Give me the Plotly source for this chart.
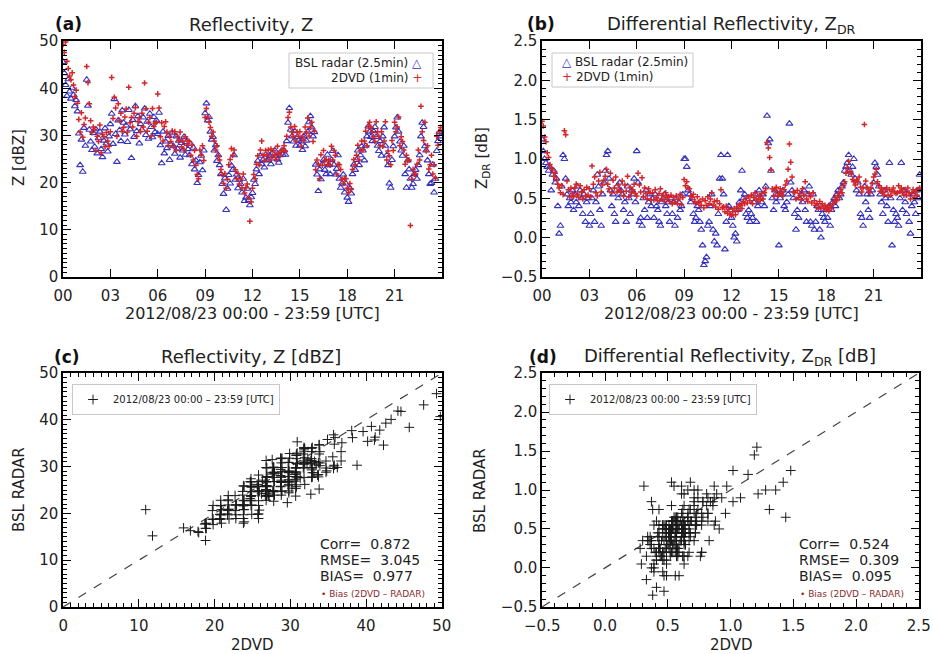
import plotly.graph_objects as go

W, H = 933, 654
def px(x):
    return x / W
def py(y):
    return 1 - y / H

# ---------------- data ----------------
minutes = list(range(0, 1440, 5))          # 5-min sample times
hours = [m / 60 for m in minutes]
hour_ticks = [0, 3, 6, 9, 12, 15, 18, 21]
hour_labels = ["00", "03", "06", "09", "12", "15", "18", "21"]

# Reflectivity Z [dBZ], BSL radar
z_radar = [
    45.6, 43.2, 40.7, 38.4, 41.9, 39.3, 37.8, 40.1, 38.6, 36.2, 37.5, 35.1,
    30.4, 23.7, 29.1, 22.3, 31.6, 27.8, 41.8, 36.3, 31.2, 28.7, 26.9, 30.5,
    27.6, 31.3, 26.2, 29.4, 30.8, 27.1, 25.4, 28.9, 31.5, 28.3, 26.6, 29.8,
    32.4, 34.6, 28.2, 37.7, 30.3, 24.4, 33.2, 31.1, 28.8, 35.3, 32.7, 30.2,
    32.1, 28.6, 35.4, 31.3, 25.2, 33.3, 29.7, 36.2, 30.9, 34.1, 28.3, 32.4,
    31.2, 33.8, 35.7, 30.1, 32.9, 29.3, 34.6, 31.8, 29.6, 33.9, 30.7, 33.2,
    30.3, 34.8, 27.9, 24.1, 30.8, 26.2, 28.7, 27.3, 29.9, 24.8, 28.1, 30.6,
    27.7, 26.1, 29.8, 27.2, 28.9, 25.3, 28.4, 26.8, 29.7, 25.9, 28.6, 27.1,
    25.8, 28.2, 23.9, 27.4, 22.8, 24.7, 19.9, 21.6, 24.3, 25.7, 22.6, 26.8,
    34.7, 36.8, 33.2, 33.9, 30.8, 29.1, 29.7, 26.8, 27.9, 24.6, 25.8, 23.7,
    21.8, 19.7, 17.6, 20.9, 14.2, 18.7, 21.6, 19.8, 23.6, 22.7, 25.8, 20.6,
    21.7, 18.8, 20.6, 19.7, 17.9, 20.8, 16.1, 16.8, 18.7, 16.3, 15.2, 16.9,
    17.8, 20.6, 19.7, 22.8, 24.6, 21.8, 25.7, 23.9, 24.8, 23.2, 25.9, 24.7,
    24.8, 25.7, 23.9, 26.2, 25.1, 26.8, 25.6, 24.9, 24.2, 25.8, 26.7, 25.9,
    26.8, 25.9, 28.8, 32.7, 35.8, 31.2, 29.8, 28.7, 30.9, 27.8, 29.7, 28.9,
    27.8, 28.7, 26.9, 29.8, 27.7, 28.9, 30.8, 32.8, 34.1, 31.7, 29.8, 30.7,
    23.8, 21.7, 18.2, 22.8, 20.7, 23.9, 24.8, 22.7, 21.8, 25.9, 23.7, 21.8,
    24.8, 26.7, 23.8, 21.7, 22.9, 25.8, 20.8, 18.9, 19.8, 21.7, 17.9, 19.8,
    16.8, 15.9, 18.8, 17.7, 21.8, 23.8, 22.7, 24.8, 26.8, 23.7, 25.8, 27.7,
    26.8, 24.7, 27.8, 29.8, 31.9, 30.8, 29.7, 28.8, 30.9, 31.8, 29.7, 27.8,
    26.7, 28.8, 25.7, 29.8, 31.7, 27.8, 25.8, 23.7, 19.8, 18.9, 24.8, 27.7,
    29.8, 31.7, 33.8, 30.8, 28.7, 26.8, 25.7, 27.8, 21.8, 18.9, 24.7, 22.8,
    20.8, 18.9, 19.7, 21.8, 22.7, 20.8, 23.7, 25.8, 29.8, 32.7, 31.8, 27.7,
    26.8, 24.7, 21.8, 19.7, 19.9, 23.8, 17.9, 20.8, 26.7, 28.8, 30.7, 29.8,
]

# Reflectivity Z [dBZ], 2DVD
z_2dvd = [
    49.3, 47.6, 49.8, 45.7, 44.2, 42.6, 41.8, 43.3, 40.7, 38.2, 39.6, 36.8,
    33.4, 30.7, 34.8, 29.6, 32.3, 33.7, 44.6, 41.2, 36.7, 33.1, 30.6, 31.8,
    31.3, 26.8, 29.8, 28.7, 32.2, 26.3, 30.2, 29.7, 27.6, 30.6, 28.8, 27.7,
    30.8, 42.3, 33.6, 38.1, 35.8, 29.8, 36.7, 33.2, 34.7, 30.9, 31.7, 33.9,
    35.6, 30.7, 40.2, 32.7, 33.8, 31.8, 34.7, 35.9, 29.8, 32.9, 33.7, 30.8,
    34.7, 31.8, 41.1, 35.7, 30.9, 32.8, 33.8, 29.9, 35.7, 31.9, 32.6, 32.8,
    38.8, 35.8, 29.7, 32.7, 28.8, 31.9, 32.9, 30.7, 27.8, 29.8, 28.7, 30.9,
    27.7, 30.8, 26.8, 29.8, 28.9, 30.7, 27.6, 28.8, 26.9, 29.7, 27.9, 28.8,
    28.7, 25.8, 27.9, 24.8, 26.8, 23.7, 21.7, 20.8, 26.9, 25.8, 27.8, 24.7,
    33.8, 35.7, 33.9, 32.8, 31.7, 29.8, 30.7, 28.8, 26.9, 27.8, 25.7, 24.8,
    22.8, 21.7, 19.8, 21.9, 18.8, 20.7, 23.8, 24.9, 27.2, 25.8, 26.9, 22.7,
    20.8, 21.9, 19.7, 20.8, 18.9, 21.8, 17.8, 18.9, 19.7, 16.8, 11.8, 15.9,
    18.8, 21.7, 20.8, 23.9, 25.7, 23.8, 26.9, 28.8, 25.8, 24.7, 26.8, 25.9,
    26.9, 24.8, 27.1, 25.6, 26.8, 25.8, 24.9, 27.7, 26.2, 25.7, 26.8, 26.9,
    27.8, 26.7, 29.8, 33.8, 34.9, 31.8, 30.7, 29.8, 31.9, 28.8, 30.7, 29.8,
    30.8, 27.7, 29.8, 28.9, 31.8, 30.7, 33.7, 29.9, 31.8, 32.8, 28.7, 30.9,
    22.7, 24.8, 23.9, 20.8, 25.9, 23.7, 26.8, 24.7, 24.9, 23.8, 24.8, 23.7,
    27.7, 24.8, 26.8, 25.8, 21.8, 23.9, 23.8, 22.8, 20.7, 19.8, 20.9, 20.8,
    18.8, 17.9, 19.8, 18.7, 22.8, 24.9, 23.8, 25.8, 27.9, 24.8, 26.8, 28.8,
    26.9, 28.8, 30.9, 27.8, 31.9, 32.8, 31.8, 30.8, 29.7, 28.7, 32.9, 30.8,
    29.8, 27.8, 30.8, 27.7, 28.8, 32.9, 24.8, 26.7, 25.7, 23.8, 28.9, 26.8,
    32.8, 30.8, 31.8, 33.9, 27.8, 29.7, 28.7, 26.9, 23.9, 25.8, 24.7, 24.8,
    10.9, 20.7, 22.8, 21.8, 21.8, 23.9, 26.9, 24.8, 36.2, 30.8, 28.9, 32.8,
    26.7, 27.8, 22.9, 23.8, 25.8, 21.8, 23.8, 20.9, 29.8, 27.9, 30.8, 31.7,
]

# Differential reflectivity ZDR [dB], BSL radar
zdr_radar = [
    1.25, 1.1, 1.0, 0.95, 0.9, 0.85, 0.9, 0.6, 0.8, 0.85, 0.7, 0.75,
    0.4, 0.05, 0.15, 0.65, 1.05, 1.0, 0.75, 0.55, 0.4, 0.5, 0.45, 0.6,
    0.35, 0.55, 0.45, 0.65, 0.4, 0.6, 0.5, 0.3, 0.55, 0.2, 0.45, 0.5,
    0.15, 0.3, 0.5, 0.6, 0.2, 0.45, 0.8, 0.65, 0.35, 0.15, 0.55, 0.7,
    0.85, 1.05, 1.1, 0.75, 0.6, 0.4, 0.55, 0.3, 0.2, 0.65, 0.5, 0.7,
    0.6, 0.55, 0.35, 0.45, 0.2, 0.65, 0.5, 0.3, 0.6, 0.55, 0.75, 0.45,
    1.1, 0.7, 0.2, 0.25, 0.15, 0.5, 0.35, 0.6, 0.25, 0.45, 0.55, 0.4,
    0.5, 0.25, 0.55, 0.4, 0.35, 0.2, 0.15, 0.45, 0.5, 0.55, 0.4, 0.3,
    0.45, 0.2, 0.5, 0.3, 0.45, 0.15, 0.5, 0.25, 0.45, 0.35, 0.4, 0.55,
    1.0, 1.0, 0.9, 0.6, 0.55, 0.45, 0.5, 0.3, 0.2, 0.25, 0.4, 0.35,
    0.2, 0.1, -0.1, -0.35, -0.3, -0.25, 0.15, 0.2, 0.4, 0.55, 0.1, -0.05,
    0.05, -0.1, 0.3, 0.75, 1.05, 0.75, 0.55, -0.15, 0.2, 1.05, 0.4, 0.35,
    0.25, 0.15, 0.0, 0.05, -0.05, 0.35, 0.45, 0.6, 0.85, 0.5, 0.55, 0.3,
    0.25, 0.35, 0.2, 0.3, 0.25, 0.45, 0.55, 0.2, 0.4, 0.6, 0.5, 0.45,
    0.55, 0.4, 0.65, 1.55, 1.2, 1.25, 0.85, 0.5, 0.35, 0.6, 0.45, 0.55,
    -0.1, 0.5, 0.55, 0.6, 0.4, 0.35, 0.45, 0.55, 1.45, 0.7, 0.6, 0.5,
    0.3, 0.1, 0.35, 0.25, 0.5, 0.55, 0.45, 0.6, 0.35, 0.2, 0.55, 0.65,
    0.2, 0.15, 0.55, 0.1, 0.2, 0.4, 0.35, 0.1, 0.0, 0.3, 0.25, 0.2,
    0.35, 0.25, 0.4, 0.15, 0.35, 0.45, 0.5, 0.4, 0.55, 0.6, 0.5, 0.55,
    0.65, 0.7, 0.85, 0.9, 0.95, 1.05, 0.85, 0.8, 0.9, 1.0, 0.75, 0.6,
    0.7, 0.55, 0.3, 0.25, 0.15, 0.65, 0.45, 0.55, 0.35, 0.25, 0.55, 0.6,
    0.7, 0.95, 0.9, 0.8, 0.65, 0.55, 0.45, 0.3, 0.6, 0.5, 0.4, 0.2,
    0.95, 0.5, -0.1, 0.35, 0.2, 0.3, 0.25, 0.15, 0.5, 0.95, 0.35, 0.6,
    0.45, 0.3, 0.55, 0.2, 0.05, 0.4, 0.55, 0.45, 0.3, 0.6, 0.5, 0.8,
]

# Differential reflectivity ZDR [dB], 2DVD
zdr_2dvd = [
    1.48, 1.42, 1.28, 1.22, 1.08, 1.02, 0.93, 0.88, 0.86, 0.78, 0.82, 0.74,
    0.68, 0.63, 0.57, 0.66, 0.55, 1.36, 1.31, 0.72, 0.61, 0.52, 0.63, 0.56,
    0.52, 0.63, 0.68, 0.55, 0.51, 0.66, 0.58, 0.49, 0.61, 0.53, 0.64, 0.54,
    0.62, 0.52, 0.91, 0.68, 0.77, 0.57, 0.53, 0.72, 0.83, 0.58, 0.67, 0.73,
    0.78, 0.87, 0.68, 0.62, 0.82, 0.57, 0.73, 0.63, 0.77, 0.58, 0.67, 0.61,
    0.58, 0.72, 0.53, 0.67, 0.59, 0.78, 0.52, 0.64, 0.57, 0.61, 0.68, 0.56,
    0.53, 0.82, 0.67, 0.58, 0.76, 0.52, 0.63, 0.56, 0.49, 0.62, 0.57, 0.48,
    0.57, 0.48, 0.61, 0.51, 0.47, 0.56, 0.62, 0.49, 0.54, 0.46, 0.57, 0.51,
    0.52, 0.46, 0.54, 0.43, 0.51, 0.45, 0.53, 0.43, 0.49, 0.55, 0.42, 0.51,
    0.74, 0.66, 0.71, 0.63, 0.62, 0.53, 0.51, 0.55, 0.46, 0.43, 0.52, 0.45,
    0.46, 0.41, 0.49, 0.38, 0.47, 0.41, 0.52, 0.43, 0.49, 0.57, 0.41, 0.46,
    0.39, 0.47, 0.36, 0.43, 0.61, 0.38, 0.39, 0.33, 0.40, 0.31, 0.36, 0.30,
    0.28, 0.33, 0.37, 0.29, 0.39, 0.34, 0.42, 0.41, 0.37, 0.46, 0.43, 0.50,
    0.44, 0.52, 0.47, 0.54, 0.43, 0.51, 0.57, 0.49, 0.46, 0.53, 0.48, 0.56,
    0.49, 0.57, 0.62, 1.21, 1.14, 1.02, 0.86, 0.62, 0.53, 0.60, 0.64, 0.53,
    0.56, 0.62, 0.57, 0.53, 0.61, 0.67, 0.72, 0.87, 1.19, 0.96, 0.77, 0.58,
    0.57, 0.49, 0.60, 0.51, 0.56, 0.48, 0.62, 0.54, 0.71, 0.49, 0.46, 0.56,
    0.52, 0.44, 0.57, 0.47, 0.41, 0.43, 0.37, 0.46, 0.39, 0.43, 0.37, 0.41,
    0.35, 0.39, 0.34, 0.41, 0.37, 0.43, 0.46, 0.51, 0.47, 0.56, 0.51, 0.61,
    0.57, 0.66, 0.71, 0.82, 0.89, 0.97, 0.84, 0.81, 0.74, 0.71, 0.67, 0.73,
    0.71, 0.77, 0.64, 0.58, 0.63, 1.44, 0.72, 0.64, 0.61, 0.57, 0.63, 0.69,
    0.77, 0.81, 0.87, 0.71, 0.66, 0.59, 0.63, 0.57, 0.54, 0.61, 0.63, 0.54,
    0.61, 0.54, 0.59, 0.63, 0.58, 0.56, 0.57, 0.66, 0.59, 0.63, 0.57, 0.54,
    0.61, 0.54, 0.63, 0.57, 0.49, 0.56, 0.61, 0.51, 0.59, 0.54, 0.61, 0.63,
]

one_to_one_z = [0, 50]
one_to_one_zdr = [-0.5, 2.5]

stats_z = ["Corr=  0.872", "RMSE=  3.045", "BIAS=  0.977"]
stats_zdr = ["Corr=  0.524", "RMSE=  0.309", "BIAS=  0.095"]
period_label = "2012/08/23 00:00 \u2013 23:59 [UTC]"

# ---------------- styles ----------------
FONT = "DejaVu Sans"
BLUE = "#3532c0"
RED = "#d2262a"
BLACK = "#1a1a1a"

radar_marker = dict(symbol="triangle-up-open", size=6, color=BLUE,
                    line=dict(width=1.1, color=BLUE))
dvd_marker = dict(symbol="cross-thin", size=4, color=RED,
                  line=dict(width=1.5, color=RED))
sc_marker = dict(symbol="cross-thin", size=7, color=BLACK,
                 line=dict(width=1, color=BLACK))

fig = go.Figure()

# (a)
fig.add_trace(go.Scatter(x=hours, y=z_radar, mode="markers", marker=radar_marker,
                         xaxis="x", yaxis="y", name="BSL radar (2.5min)", showlegend=False))
fig.add_trace(go.Scatter(x=hours, y=z_2dvd, mode="markers", marker=dvd_marker,
                         xaxis="x", yaxis="y", name="2DVD (1min)", showlegend=False))
# (b)
fig.add_trace(go.Scatter(x=hours, y=zdr_radar, mode="markers", marker=radar_marker,
                         xaxis="x2", yaxis="y2", name="BSL radar (2.5min)", showlegend=False))
fig.add_trace(go.Scatter(x=hours, y=zdr_2dvd, mode="markers", marker=dvd_marker,
                         xaxis="x2", yaxis="y2", name="2DVD (1min)", showlegend=False))
# (c)
fig.add_trace(go.Scatter(x=one_to_one_z, y=one_to_one_z, mode="lines",
                         line=dict(color="#444", width=1.2, dash="dash"),
                         xaxis="x3", yaxis="y3", showlegend=False, hoverinfo="skip"))
fig.add_trace(go.Scatter(x=z_2dvd, y=z_radar, mode="markers", marker=sc_marker,
                         xaxis="x3", yaxis="y3", name=period_label, legend="legend"))
# (d)
fig.add_trace(go.Scatter(x=one_to_one_zdr, y=one_to_one_zdr, mode="lines",
                         line=dict(color="#444", width=1.2, dash="dash"),
                         xaxis="x4", yaxis="y4", showlegend=False, hoverinfo="skip"))
fig.add_trace(go.Scatter(x=zdr_2dvd, y=zdr_radar, mode="markers", marker=sc_marker,
                         xaxis="x4", yaxis="y4", name=period_label, legend="legend2"))


def ax(domain, rng, anchor, minor_dtick=None, **kw):
    d = dict(domain=domain, range=rng, anchor=anchor, showline=True, linecolor="black",
             linewidth=1.5, mirror="allticks", ticks="inside", ticklen=8, tickwidth=1.2,
             tickcolor="black", showgrid=False, zeroline=False, automargin=False,
             tickfont=dict(family=FONT, size=15, color="#222"))
    if minor_dtick is not None:
        d["minor"] = dict(ticks="inside", ticklen=4, tickwidth=1, tickcolor="black",
                          dtick=minor_dtick, showgrid=False)
    d.update(kw)
    return d

dxa = [px(63), px(442)]
dxb = [px(542), px(921)]
dya = [py(277), py(41)]
dyc = [py(607), py(373)]

fig.update_layout(
    width=W, height=H, margin=dict(l=0, r=0, t=0, b=0, autoexpand=False),
    paper_bgcolor="white", plot_bgcolor="white",
    font=dict(family=FONT, color="#222"),
    xaxis=ax(dxa, [0, 24], "y", tickvals=hour_ticks, ticktext=hour_labels, ticklabelstandoff=4),
    yaxis=ax(dya, [-0.02, 50.02], "x", minor_dtick=1, dtick=10),
    xaxis2=ax(dxb, [0, 24], "y2", tickvals=hour_ticks, ticktext=hour_labels, ticklabelstandoff=4),
    yaxis2=ax(dya, [-0.502, 2.502], "x2", minor_dtick=0.1, dtick=0.5, tickformat=".1f"),
    xaxis3=ax(dxa, [-0.02, 50.02], "y3", minor_dtick=1, dtick=10, ticklabelstandoff=4),
    yaxis3=ax(dyc, [-0.02, 50.02], "x3", minor_dtick=1, dtick=10),
    xaxis4=ax([px(542), px(919)], [-0.502, 2.502], "y4", minor_dtick=0.1, dtick=0.5,
              tickformat=".1f", ticklabelstandoff=4),
    yaxis4=ax(dyc, [-0.502, 2.502], "x4", minor_dtick=0.1, dtick=0.5, tickformat=".1f"),
    legend=dict(x=px(72), y=py(384), xanchor="left", yanchor="top",
                bgcolor="rgba(255,255,255,0.9)", bordercolor="#c8c8c8", borderwidth=1,
                font=dict(family=FONT, size=10, color="#222"), itemwidth=30),
    legend2=dict(x=px(549), y=py(384), xanchor="left", yanchor="top",
                 bgcolor="rgba(255,255,255,0.9)", bordercolor="#c8c8c8", borderwidth=1,
                 font=dict(family=FONT, size=10, color="#222"), itemwidth=30),
)

ann = []
def text(x, y, s, size=15, xanchor="center", color="#222", bold=False, angle=0):
    ann.append(dict(x=px(x), y=py(y), xref="paper", yref="paper", text=s, showarrow=False,
                    xanchor=xanchor, yanchor="middle", textangle=angle,
                    font=dict(family=FONT, size=size, color=color,
                              weight="bold" if bold else "normal")))

# panel labels and titles
text(53, 24, "(a)", 17, "left", "#111", True)
text(251, 25, "Reflectivity, Z", 18)
text(525, 24, "(b)", 17, "left", "#111", True)
text(731, 25, "Differential Reflectivity, Z<sub>DR</sub>", 18)
text(52, 357, "(c)", 17, "left", "#111", True)
text(251, 357, "Reflectivity, Z [dBZ]", 18)
text(527, 357, "(d)", 17, "left", "#111", True)
text(730, 357, "Differential Reflectivity, Z<sub>DR</sub> [dB]", 18)

# axis titles
text(252, 313, period_label.replace("\u2013", "-"), 16)
text(731, 313, period_label.replace("\u2013", "-"), 16)
text(252, 645, "2DVD", 15)
text(731, 645, "2DVD", 15)
text(19, 158, "Z [dBZ]", 15, angle=-90)
text(482, 158, "Z<sub>DR</sub> [dB]", 15, angle=-90)
text(19, 490, "BSL RADAR", 15, angle=-90)
text(480, 490, "BSL RADAR", 15, angle=-90)

# legend of panel (a) (symbols on the right, as in the original)
text(424, 63, "BSL radar (2.5min) <span style='color:%s'>\u25b3</span>" % BLUE, 12, "right")
text(424, 78, "2DVD (1min) <span style='color:%s'>+</span>" % RED, 12, "right")
# legend of panel (b) (symbols on the left)
text(560, 62, "<span style='color:%s'>\u25b3</span> BSL radar (2.5min)" % BLUE, 12, "left")
text(560, 77, "<span style='color:%s'>+</span> 2DVD (1min)" % RED, 12, "left")

# statistics
for i, s in enumerate(stats_z):
    text(318, 544 + 16 * i, s, 14, "left")
for i, s in enumerate(stats_zdr):
    text(797, 544 + 16 * i, s, 14, "left")
text(319, 594, "\u2022 Bias (2DVD \u2013 RADAR)", 9, "left", "#8b2a2a")
text(798, 594, "\u2022 Bias (2DVD \u2013 RADAR)", 9, "left", "#8b2a2a")

legend_box = dict(type="rect", xref="paper", yref="paper",
                  line=dict(color="#c8c8c8", width=1),
                  fillcolor="rgba(255,255,255,0.9)", layer="below")
fig.update_layout(annotations=ann,
                  shapes=[dict(legend_box, x0=px(289), x1=px(433), y0=py(88), y1=py(53)),
                          dict(legend_box, x0=px(552), x1=px(693), y0=py(87), y1=py(53))])

fig.write_html("out.html", config={"displayModeBar": False},
               post_script="document.body.style.margin='0px';")
